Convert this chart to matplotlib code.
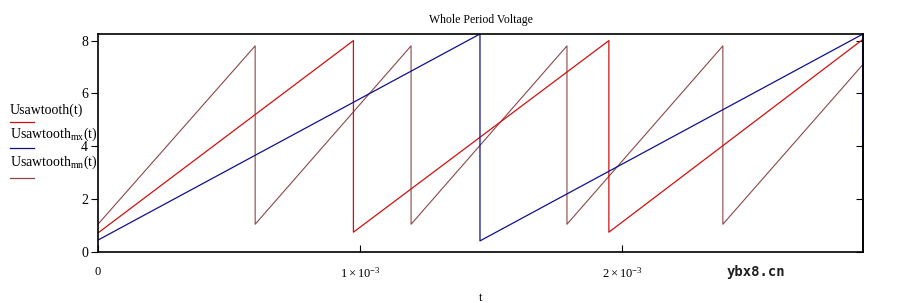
import matplotlib
matplotlib.use("Agg")
import matplotlib.pyplot as plt

plt.rcParams['font.family'] = ['Liberation Serif', 'DejaVu Serif']
plt.rcParams['mathtext.fontset'] = 'custom'
plt.rcParams['mathtext.rm'] = 'Liberation Serif'
plt.rcParams['mathtext.it'] = 'Liberation Serif'

# Usawtooth(t)
t_main = [0, 0.975e-3, 0.975e-3, 1.95e-3, 1.95e-3, 2.92e-3]
v_main = [0.72, 8.0, 0.75, 8.0, 0.75, 8.05]

# Usawtooth_mx(t)
t_mx = [0, 1.458e-3, 1.458e-3, 2.92e-3, 2.92e-3]
v_mx = [0.45, 8.25, 0.42, 8.25, 4.3]

# Usawtooth_mn(t)
t_mn = [0, 0.60e-3, 0.60e-3, 1.195e-3, 1.195e-3, 1.79e-3, 1.79e-3,
        2.385e-3, 2.385e-3, 2.92e-3]
v_mn = [1.05, 7.8, 1.05, 7.8, 1.05, 7.8, 1.05, 7.8, 1.05, 7.1]

x_ticks = [0, 1e-3, 2e-3]
x_tick_labels = ['0', r'$1\times10^{-3}$', r'$2\times10^{-3}$']
y_ticks = [0, 2, 4, 6, 8]

c_main = '#d01010'
c_mx = '#10108a'
c_mn = '#8a4848'

fig = plt.figure(figsize=(9.02, 3.03), dpi=100)
ax = fig.add_axes([0.1086, 0.1683, 0.8482, 0.7195])

ax.plot(t_mn, v_mn, color=c_mn, lw=0.8)
ax.plot(t_main, v_main, color=c_main, lw=0.9)
ax.plot(t_mx[:-1], v_mx[:-1], color=c_mx, lw=0.9)
ax.plot(t_mx[-2:], v_mx[-2:], color=c_mx, lw=2.2)

ax.set_xlim(0, 2.92e-3)
ax.set_ylim(0, 8.25)
ax.set_xticks(x_ticks)
ax.set_xticklabels(x_tick_labels)
ax.set_yticks(y_ticks)
ax.tick_params(axis='x', direction='in', length=5, pad=10, labelsize=9)
ax.tick_params(axis='y', direction='out', length=5, pad=2, labelsize=10)
for s in ax.spines.values():
    s.set_linewidth(1.2)

# inward ticks on the right edge
ax_r = ax.secondary_yaxis('right')
ax_r.set_yticks(y_ticks)
ax_r.tick_params(direction='in', length=5, labelright=False)
ax_r.spines['right'].set_linewidth(1.2)

ax.set_title('Whole Period Voltage', fontsize=8.5, pad=8)
ax.set_xlabel('t', fontsize=9, labelpad=8)

# legend on the left
labels = ['Usawtooth(t)', r'Usawtooth$_{\mathrm{mx}}$(t)', r'Usawtooth$_{\mathrm{mn}}$(t)']
colors = [c_main, c_mx, c_mn]
text_y = [110, 134, 162]
line_y = [122, 148, 178]
for lab, col, ty, yy in zip(labels, colors, text_y, line_y):
    fig.text(10 / 902, 1 - ty / 303, lab, fontsize=10, va='center', ha='left')
    ly = 1 - yy / 303
    fig.add_artist(plt.Line2D([10 / 902, 34 / 902], [ly, ly], color=col, lw=0.9))

fig.text(756 / 902, 1 - 272 / 303, 'ybx8.cn', fontsize=10, fontweight='bold',
         family='DejaVu Sans Mono', color='#202020', ha='center', va='center')

fig.savefig('out.png', dpi=100)
